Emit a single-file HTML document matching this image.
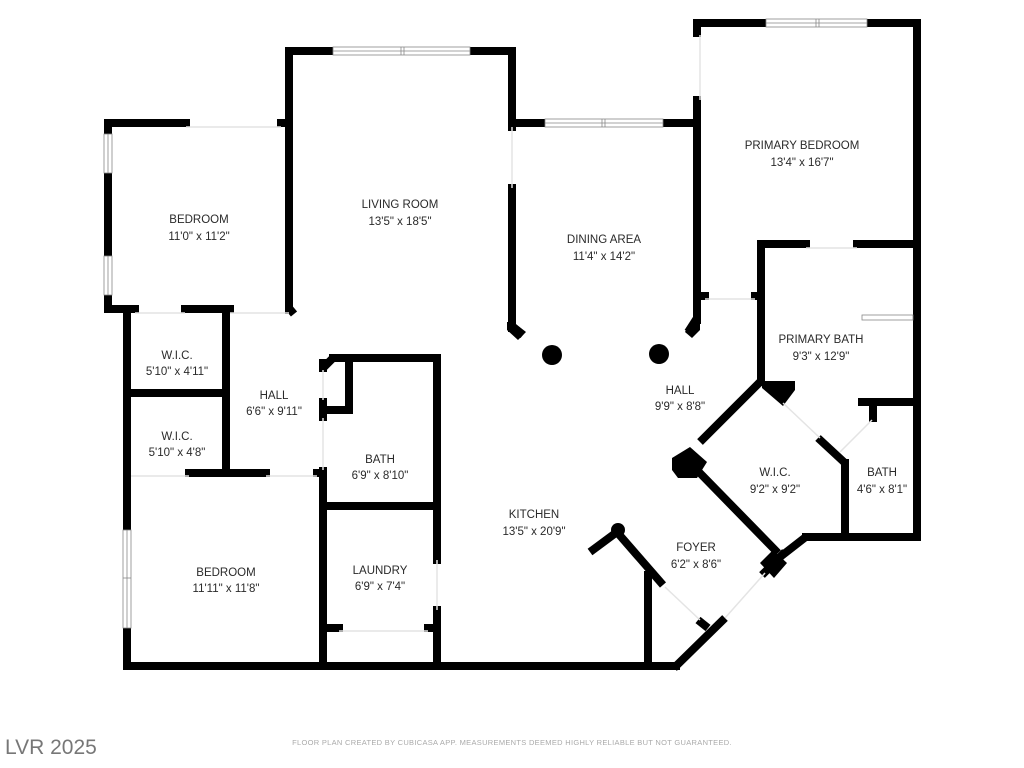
<!DOCTYPE html>
<html><head><meta charset="utf-8"><style>
html,body{margin:0;padding:0;background:#fff;}
svg{display:block;}
.l{font-family:"Liberation Sans",sans-serif;font-size:11.5px;fill:#2a2a2a;text-anchor:middle;}
</style></head><body>
<svg width="1024" height="768" viewBox="0 0 1024 768" xmlns="http://www.w3.org/2000/svg">
<rect width="1024" height="768" fill="#fff"/>
<g stroke="#000" stroke-width="8" fill="none" stroke-linecap="square" stroke-linejoin="miter">
<path d="M108,123 H186"/>
<path d="M281,123 H289"/>
<path d="M108,123 V309 H135"/>
<path d="M185,309 H230"/>
<path d="M127,309 V666"/>
<path d="M226,309 V473"/>
<path d="M127,393 H226"/>
<path d="M189,473 H266"/>
<path d="M317,473 H323"/>
<path d="M289,51 V310"/>
<path d="M289,51 H512 V127"/>
<path d="M512,188 V328"/>
<path d="M512,123 H697"/>
<path d="M697,23 V33"/>
<path d="M697,100 V320"/>
<path d="M697,23 H917 V537 H806"/>
<path d="M127,666 H676"/>
<path d="M323,368 V363"/>
<path d="M333,358 H437 V560"/>
<path d="M437,610 V666"/>
<path d="M349,358 V410 H323"/>
<path d="M323,402 V417"/>
<path d="M323,471 V666"/>
<path d="M323,506 H437"/>
<path d="M323,628 H339"/>
<path d="M428,628 H437"/>
<path d="M761,244 H806"/>
<path d="M857,244 H913"/>
<path d="M761,244 V382"/>
<path d="M700,296 H705"/>
<path d="M755,296 H761"/>
<path d="M862,402 H913"/>
<path d="M873,402 V418"/>
<path d="M845,463 V533"/>
<path d="M648,575 V666"/>
</g>
<g stroke="#000" stroke-width="8" fill="none" stroke-linecap="butt">
<path d="M323,368 L333,358"/>
<path d="M289,308 L294,314"/>
<path d="M512,326 L523,335"/>
<path d="M697,318 L688,332"/>
<path d="M760,382 L700,442"/>
<path d="M695,468 L778,553"/>
<path d="M780,557 L807,536"/>
<path d="M818,438 L845,463"/>
<path d="M590,552 L617,532"/>
<path d="M616,531 L663,585"/>
<path d="M698,620 L708,628"/>
<path d="M674,668 L725,618"/>
<path d="M762,575 L785,552"/>
</g>
<polygon points="762,381 795,381 795,390 783,406 762,388" fill="#000"/>
<polygon points="672,458 690,447 707,462 697,478 678,478 672,470" fill="#000"/>
<polygon points="760,563 773,550 787,563 774,578" fill="#000"/>
<circle cx="618" cy="530" r="7" fill="#000"/>
<circle cx="552" cy="355" r="10" fill="#000"/>
<circle cx="659" cy="354" r="10" fill="#000"/>
<polygon points="507,322 513,322 526,332 518,340 507,330" fill="#000"/>
<polygon points="693,318 700,318 700,330 692,338 685,332" fill="#000"/>
<g fill="#fff" stroke="#888" stroke-width="0.8">
<rect x="333" y="47" width="137" height="8"/>
<line x1="333" y1="51" x2="470" y2="51"/><line x1="401" y1="47" x2="401" y2="55"/><line x1="404" y1="47" x2="404" y2="55"/>
<rect x="545" y="119" width="118" height="8"/>
<line x1="545" y1="123" x2="663" y2="123"/><line x1="602" y1="119" x2="602" y2="127"/><line x1="605" y1="119" x2="605" y2="127"/>
<rect x="766" y="19" width="101" height="8"/>
<line x1="766" y1="23" x2="867" y2="23"/><line x1="816" y1="19" x2="816" y2="27"/><line x1="819" y1="19" x2="819" y2="27"/>
<rect x="104" y="134" width="8" height="39"/>
<line x1="108" y1="134" x2="108" y2="173"/>
<rect x="104" y="256" width="8" height="39"/>
<line x1="108" y1="256" x2="108" y2="295"/>
<rect x="123" y="530" width="8" height="98"/>
<line x1="127" y1="530" x2="127" y2="628"/><line x1="123" y1="578" x2="131" y2="578"/>
<rect x="862" y="315" width="51" height="5"/>
</g>
<g stroke="#e4e4e4" stroke-width="1.5">
<line x1="186" y1="127" x2="281" y2="127"/>
<line x1="135" y1="313" x2="185" y2="313"/>
<line x1="230" y1="313" x2="289" y2="313"/>
<line x1="131" y1="476" x2="189" y2="476"/>
<line x1="266" y1="476" x2="317" y2="476"/>
<line x1="512" y1="127" x2="512" y2="188"/>
<line x1="700" y1="35" x2="700" y2="100"/>
<line x1="705" y1="299" x2="755" y2="299"/>
<line x1="806" y1="248" x2="857" y2="248"/>
<line x1="339" y1="631" x2="428" y2="631"/>
<line x1="437" y1="560" x2="437" y2="610"/>
<line x1="323" y1="370" x2="323" y2="400"/>
<line x1="323" y1="418" x2="323" y2="470"/>
<line x1="783" y1="403" x2="820" y2="438"/>
<line x1="872" y1="420" x2="840" y2="452"/>
<line x1="665" y1="587" x2="700" y2="620"/>
<line x1="725" y1="618" x2="765" y2="573"/>
</g>
<text class="l" x="199" y="223">BEDROOM</text>
<text class="l" x="199" y="240">11'0" x 11'2"</text>
<text class="l" x="400" y="208">LIVING ROOM</text>
<text class="l" x="400" y="225">13'5" x 18'5"</text>
<text class="l" x="604" y="243">DINING AREA</text>
<text class="l" x="604" y="260">11'4" x 14'2"</text>
<text class="l" x="802" y="149">PRIMARY BEDROOM</text>
<text class="l" x="802" y="166">13'4" x 16'7"</text>
<text class="l" x="821" y="343">PRIMARY BATH</text>
<text class="l" x="821" y="360">9'3" x 12'9"</text>
<text class="l" x="177" y="359">W.I.C.</text>
<text class="l" x="177" y="375">5'10" x 4'11"</text>
<text class="l" x="274" y="399">HALL</text>
<text class="l" x="274" y="415">6'6" x 9'11"</text>
<text class="l" x="177" y="440">W.I.C.</text>
<text class="l" x="177" y="456">5'10" x 4'8"</text>
<text class="l" x="380" y="463">BATH</text>
<text class="l" x="380" y="479">6'9" x 8'10"</text>
<text class="l" x="680" y="394">HALL</text>
<text class="l" x="680" y="410">9'9" x 8'8"</text>
<text class="l" x="775" y="476">W.I.C.</text>
<text class="l" x="775" y="493">9'2" x 9'2"</text>
<text class="l" x="882" y="476">BATH</text>
<text class="l" x="882" y="493">4'6" x 8'1"</text>
<text class="l" x="534" y="518">KITCHEN</text>
<text class="l" x="534" y="535">13'5" x 20'9"</text>
<text class="l" x="696" y="551">FOYER</text>
<text class="l" x="696" y="568">6'2" x 8'6"</text>
<text class="l" x="226" y="576">BEDROOM</text>
<text class="l" x="226" y="592">11'11" x 11'8"</text>
<text class="l" x="380" y="574">LAUNDRY</text>
<text class="l" x="380" y="590">6'9" x 7'4"</text>
<text x="5" y="754" font-family="Liberation Sans,sans-serif" font-size="21" fill="#777">LVR 2025</text>
<text x="512" y="745" font-family="Liberation Sans,sans-serif" font-size="7.5" letter-spacing="0.3" fill="#aaa" text-anchor="middle">FLOOR PLAN CREATED BY CUBICASA APP. MEASUREMENTS DEEMED HIGHLY RELIABLE BUT NOT GUARANTEED.</text>
</svg>
</body></html>
